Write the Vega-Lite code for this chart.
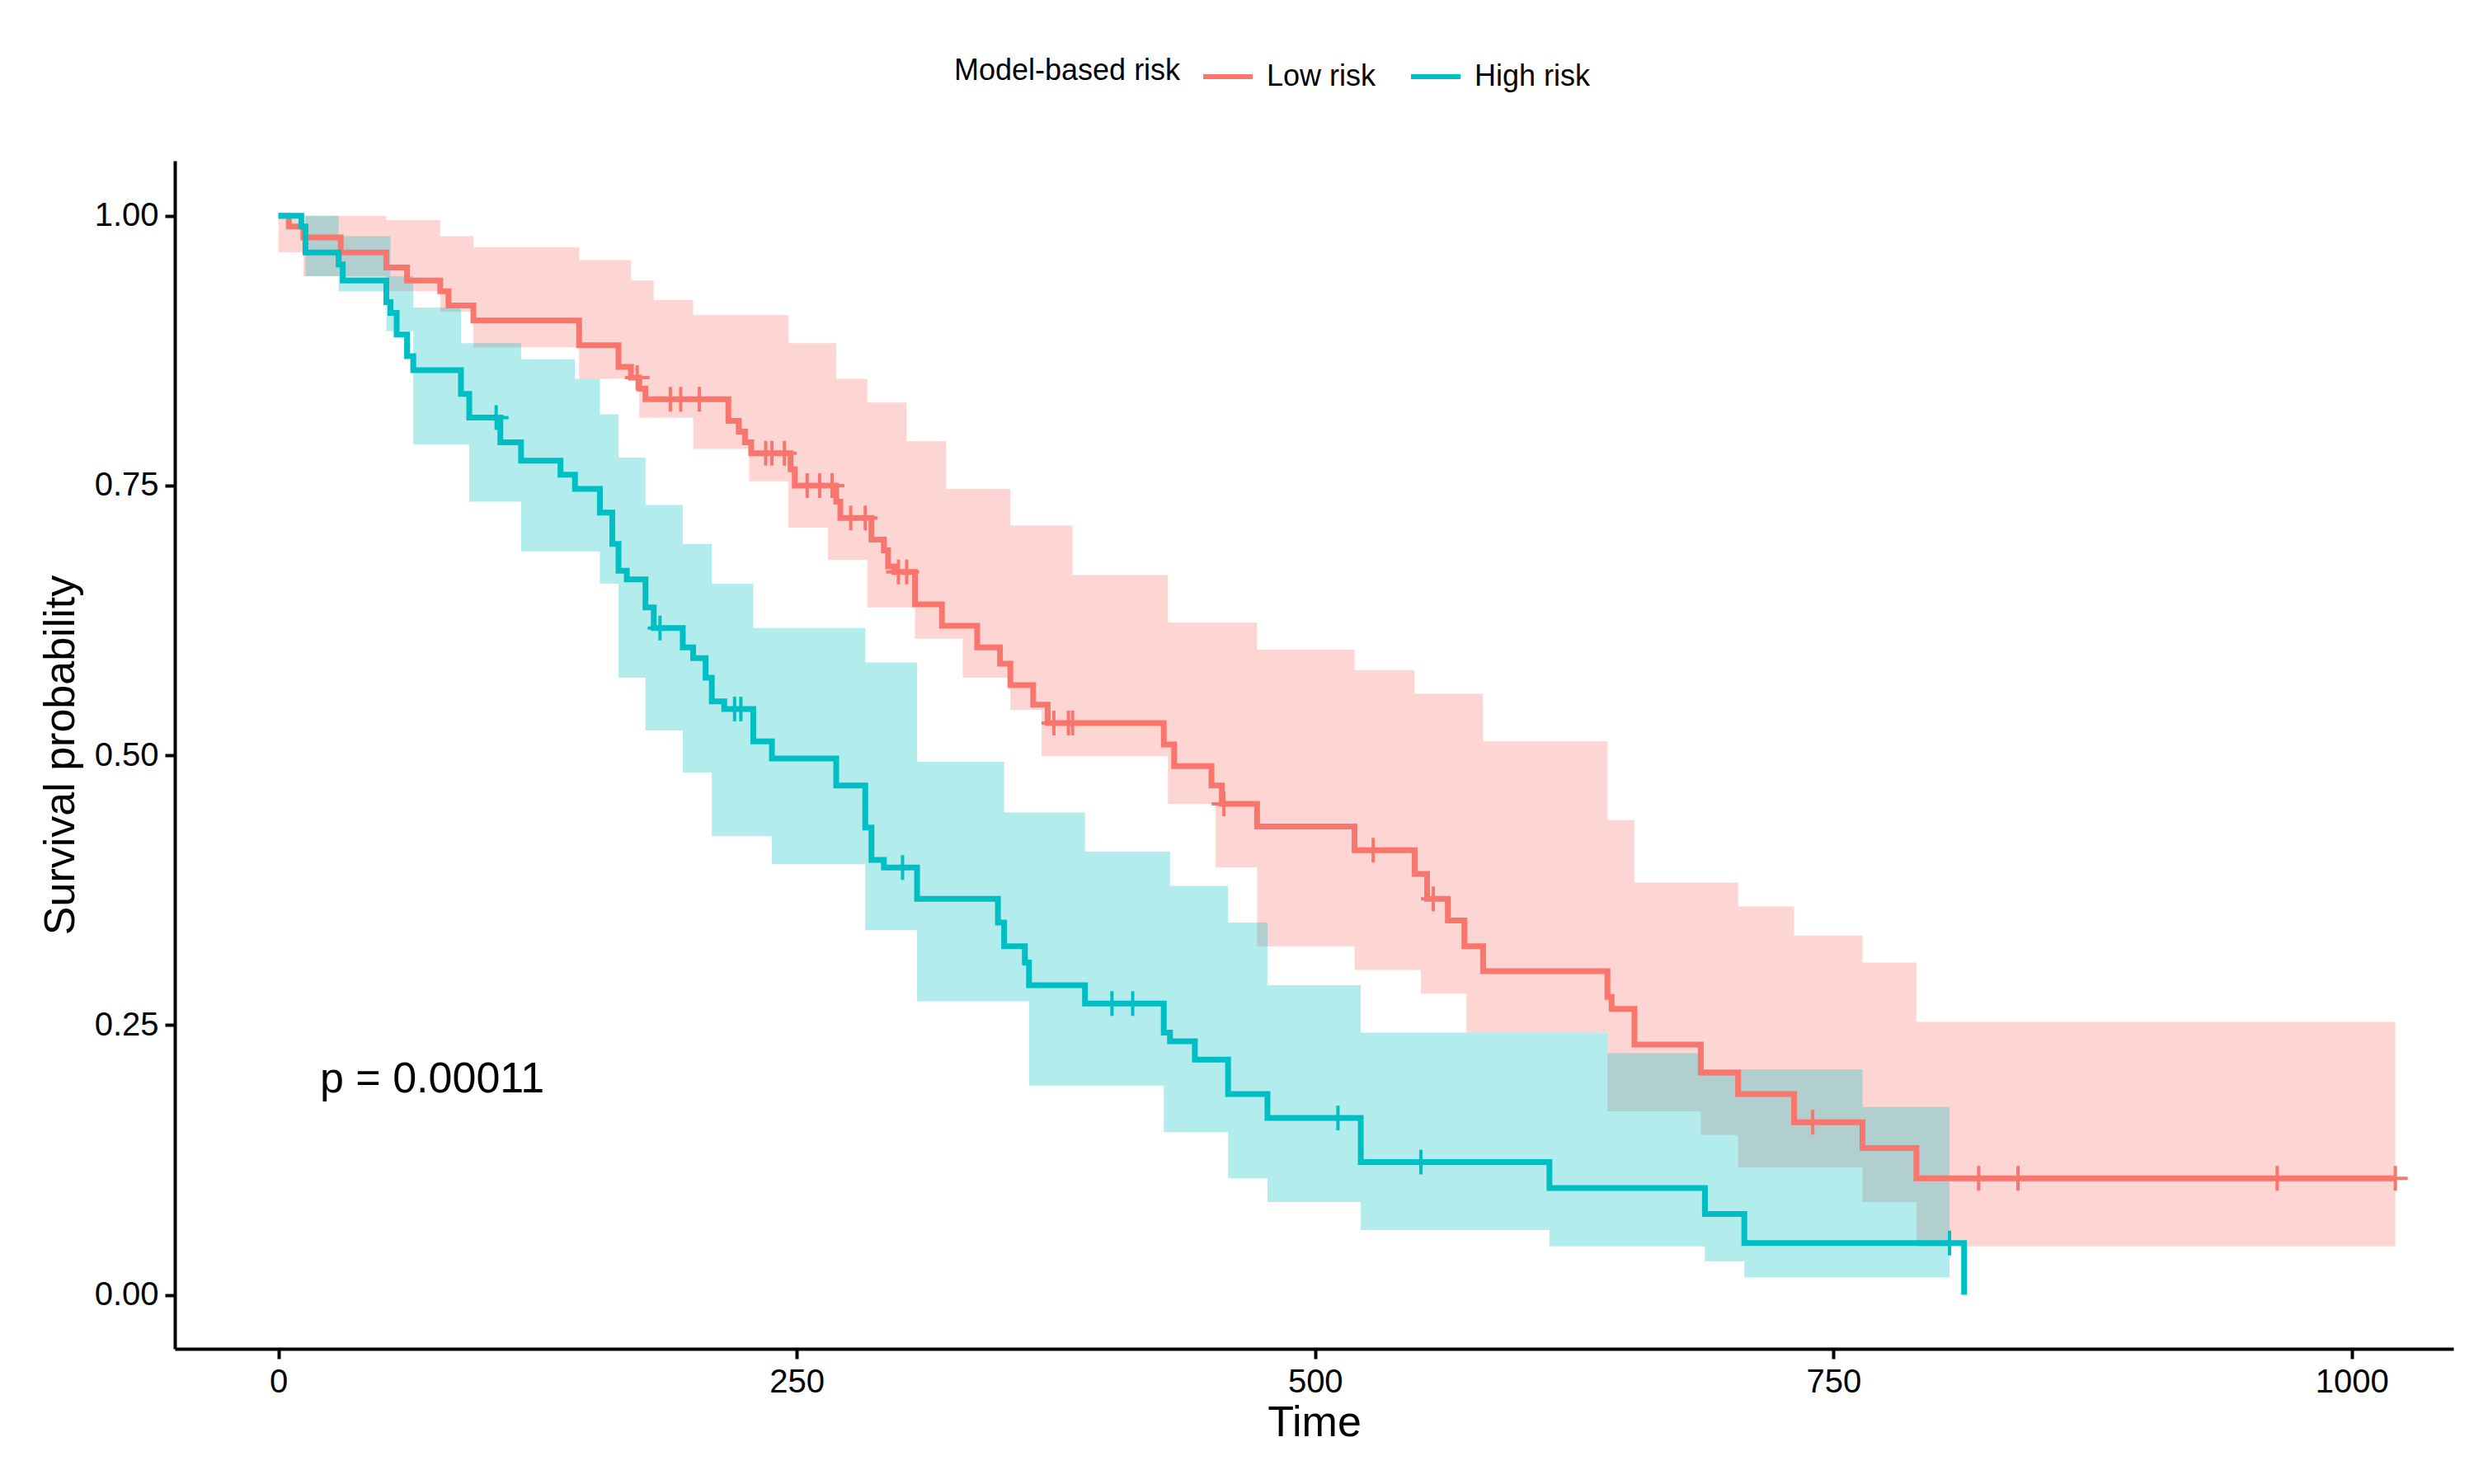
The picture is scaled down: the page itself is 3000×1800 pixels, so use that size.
{
  "$schema": "https://vega.github.io/schema/vega-lite/v6.json",
  "width": 2763,
  "height": 1441,
  "autosize": "none",
  "padding": {"left": 212, "top": 195, "right": 25, "bottom": 164},
  "background": "white",
  "config": {
    "view": {"stroke": null},
    "font": "Liberation Sans",
    "axis": {"grid": false, "domainColor": "black", "domainWidth": 4, "tickColor": "black", "tickWidth": 4, "tickSize": 12, "labelColor": "black", "labelFontSize": 40, "titleFontSize": 52, "titleFontWeight": "normal", "titleColor": "black", "labelPadding": 8},
    "legend": {"orient": "none", "legendX": 945, "legendY": -135, "direction": "horizontal", "titleOrient": "left", "titleLimit": 800, "titleFontSize": 36, "titleFontWeight": "normal", "titleColor": "black", "titleBaseline": "middle", "titlePadding": 24, "labelFontSize": 36, "labelColor": "black", "labelOffset": 14, "symbolType": "stroke", "symbolStrokeWidth": 6, "symbolSize": 3600, "symbolOpacity": 1, "columnPadding": 30}
  },
  "datasets": {
    "curve": [
      {"g": "Low risk", "t": 0, "s": 1.0}, {"g": "Low risk", "t": 5, "s": 0.99}, {"g": "Low risk", "t": 12, "s": 0.98}, {"g": "Low risk", "t": 30, "s": 0.966}, {"g": "Low risk", "t": 52, "s": 0.952}, {"g": "Low risk", "t": 62, "s": 0.94}, {"g": "Low risk", "t": 78, "s": 0.93}, {"g": "Low risk", "t": 82, "s": 0.917}, {"g": "Low risk", "t": 94, "s": 0.903}, {"g": "Low risk", "t": 145, "s": 0.88}, {"g": "Low risk", "t": 164, "s": 0.86}, {"g": "Low risk", "t": 170, "s": 0.85}, {"g": "Low risk", "t": 174, "s": 0.84}, {"g": "Low risk", "t": 177, "s": 0.83}, {"g": "Low risk", "t": 217, "s": 0.81}, {"g": "Low risk", "t": 222, "s": 0.8}, {"g": "Low risk", "t": 225, "s": 0.79}, {"g": "Low risk", "t": 228, "s": 0.78}, {"g": "Low risk", "t": 247, "s": 0.765}, {"g": "Low risk", "t": 249, "s": 0.75}, {"g": "Low risk", "t": 269, "s": 0.735}, {"g": "Low risk", "t": 271, "s": 0.72}, {"g": "Low risk", "t": 286, "s": 0.7}, {"g": "Low risk", "t": 292, "s": 0.69}, {"g": "Low risk", "t": 294, "s": 0.675}, {"g": "Low risk", "t": 297, "s": 0.67}, {"g": "Low risk", "t": 307, "s": 0.64}, {"g": "Low risk", "t": 320, "s": 0.62}, {"g": "Low risk", "t": 337, "s": 0.6}, {"g": "Low risk", "t": 348, "s": 0.585}, {"g": "Low risk", "t": 353, "s": 0.565}, {"g": "Low risk", "t": 364, "s": 0.547}, {"g": "Low risk", "t": 371, "s": 0.53}, {"g": "Low risk", "t": 427, "s": 0.51}, {"g": "Low risk", "t": 432, "s": 0.49}, {"g": "Low risk", "t": 450, "s": 0.472}, {"g": "Low risk", "t": 455, "s": 0.455}, {"g": "Low risk", "t": 472, "s": 0.434}, {"g": "Low risk", "t": 519, "s": 0.412}, {"g": "Low risk", "t": 548, "s": 0.39}, {"g": "Low risk", "t": 554, "s": 0.367}, {"g": "Low risk", "t": 564, "s": 0.347}, {"g": "Low risk", "t": 572, "s": 0.323}, {"g": "Low risk", "t": 581, "s": 0.3}, {"g": "Low risk", "t": 641, "s": 0.276}, {"g": "Low risk", "t": 643, "s": 0.265}, {"g": "Low risk", "t": 654, "s": 0.232}, {"g": "Low risk", "t": 686, "s": 0.206}, {"g": "Low risk", "t": 704, "s": 0.186}, {"g": "Low risk", "t": 731, "s": 0.16}, {"g": "Low risk", "t": 764, "s": 0.136}, {"g": "Low risk", "t": 790, "s": 0.108}, {"g": "Low risk", "t": 1021, "s": 0.108},
      {"g": "High risk", "t": 0, "s": 1.0}, {"g": "High risk", "t": 11, "s": 0.99}, {"g": "High risk", "t": 13, "s": 0.966}, {"g": "High risk", "t": 29, "s": 0.955}, {"g": "High risk", "t": 31, "s": 0.94}, {"g": "High risk", "t": 52, "s": 0.92}, {"g": "High risk", "t": 54, "s": 0.91}, {"g": "High risk", "t": 57, "s": 0.89}, {"g": "High risk", "t": 62, "s": 0.87}, {"g": "High risk", "t": 65, "s": 0.857}, {"g": "High risk", "t": 88, "s": 0.835}, {"g": "High risk", "t": 92, "s": 0.813}, {"g": "High risk", "t": 107, "s": 0.79}, {"g": "High risk", "t": 117, "s": 0.773}, {"g": "High risk", "t": 136, "s": 0.76}, {"g": "High risk", "t": 143, "s": 0.747}, {"g": "High risk", "t": 155, "s": 0.725}, {"g": "High risk", "t": 161, "s": 0.696}, {"g": "High risk", "t": 164, "s": 0.671}, {"g": "High risk", "t": 168, "s": 0.663}, {"g": "High risk", "t": 177, "s": 0.637}, {"g": "High risk", "t": 181, "s": 0.618}, {"g": "High risk", "t": 195, "s": 0.6}, {"g": "High risk", "t": 200, "s": 0.59}, {"g": "High risk", "t": 206, "s": 0.572}, {"g": "High risk", "t": 209, "s": 0.55}, {"g": "High risk", "t": 215, "s": 0.543}, {"g": "High risk", "t": 229, "s": 0.513}, {"g": "High risk", "t": 238, "s": 0.497}, {"g": "High risk", "t": 269, "s": 0.472}, {"g": "High risk", "t": 283, "s": 0.433}, {"g": "High risk", "t": 286, "s": 0.403}, {"g": "High risk", "t": 292, "s": 0.396}, {"g": "High risk", "t": 308, "s": 0.367}, {"g": "High risk", "t": 347, "s": 0.345}, {"g": "High risk", "t": 350, "s": 0.323}, {"g": "High risk", "t": 360, "s": 0.308}, {"g": "High risk", "t": 362, "s": 0.287}, {"g": "High risk", "t": 389, "s": 0.27}, {"g": "High risk", "t": 427, "s": 0.243}, {"g": "High risk", "t": 430, "s": 0.235}, {"g": "High risk", "t": 442, "s": 0.218}, {"g": "High risk", "t": 458, "s": 0.186}, {"g": "High risk", "t": 477, "s": 0.164}, {"g": "High risk", "t": 522, "s": 0.123}, {"g": "High risk", "t": 613, "s": 0.099}, {"g": "High risk", "t": 688, "s": 0.075}, {"g": "High risk", "t": 707, "s": 0.048}, {"g": "High risk", "t": 813, "s": 0.048}, {"g": "High risk", "t": 813, "s": 0.0}
    ],
    "ci": [
      {"g": "Low risk", "t": 0, "hi": 1.0, "lo": 0.966}, {"g": "Low risk", "t": 12, "hi": 1.0, "lo": 0.944}, {"g": "Low risk", "t": 52, "hi": 0.996, "lo": 0.93}, {"g": "Low risk", "t": 78, "hi": 0.981, "lo": 0.911}, {"g": "Low risk", "t": 94, "hi": 0.971, "lo": 0.878}, {"g": "Low risk", "t": 145, "hi": 0.959, "lo": 0.849}, {"g": "Low risk", "t": 170, "hi": 0.94, "lo": 0.849}, {"g": "Low risk", "t": 174, "hi": 0.94, "lo": 0.813}, {"g": "Low risk", "t": 181, "hi": 0.922, "lo": 0.813}, {"g": "Low risk", "t": 200, "hi": 0.908, "lo": 0.784}, {"g": "Low risk", "t": 227, "hi": 0.908, "lo": 0.754}, {"g": "Low risk", "t": 246, "hi": 0.882, "lo": 0.711}, {"g": "Low risk", "t": 265, "hi": 0.882, "lo": 0.681}, {"g": "Low risk", "t": 269, "hi": 0.849, "lo": 0.681}, {"g": "Low risk", "t": 284, "hi": 0.827, "lo": 0.637}, {"g": "Low risk", "t": 303, "hi": 0.791, "lo": 0.637}, {"g": "Low risk", "t": 307, "hi": 0.791, "lo": 0.608}, {"g": "Low risk", "t": 322, "hi": 0.747, "lo": 0.608}, {"g": "Low risk", "t": 330, "hi": 0.747, "lo": 0.572}, {"g": "Low risk", "t": 353, "hi": 0.713, "lo": 0.542}, {"g": "Low risk", "t": 368, "hi": 0.713, "lo": 0.499}, {"g": "Low risk", "t": 383, "hi": 0.667, "lo": 0.499}, {"g": "Low risk", "t": 429, "hi": 0.623, "lo": 0.455}, {"g": "Low risk", "t": 452, "hi": 0.623, "lo": 0.396}, {"g": "Low risk", "t": 472, "hi": 0.598, "lo": 0.323}, {"g": "Low risk", "t": 519, "hi": 0.579, "lo": 0.301}, {"g": "Low risk", "t": 548, "hi": 0.557, "lo": 0.301}, {"g": "Low risk", "t": 551, "hi": 0.557, "lo": 0.279}, {"g": "Low risk", "t": 573, "hi": 0.557, "lo": 0.243}, {"g": "Low risk", "t": 581, "hi": 0.513, "lo": 0.243}, {"g": "Low risk", "t": 641, "hi": 0.44, "lo": 0.17}, {"g": "Low risk", "t": 654, "hi": 0.382, "lo": 0.17}, {"g": "Low risk", "t": 686, "hi": 0.382, "lo": 0.148}, {"g": "Low risk", "t": 704, "hi": 0.36, "lo": 0.118}, {"g": "Low risk", "t": 731, "hi": 0.333, "lo": 0.118}, {"g": "Low risk", "t": 764, "hi": 0.308, "lo": 0.086}, {"g": "Low risk", "t": 790, "hi": 0.253, "lo": 0.045}, {"g": "Low risk", "t": 1021, "hi": 0.253, "lo": 0.045},
      {"g": "High risk", "t": 0, "hi": 1.0, "lo": 1.0}, {"g": "High risk", "t": 13, "hi": 1.0, "lo": 0.944}, {"g": "High risk", "t": 29, "hi": 0.981, "lo": 0.93}, {"g": "High risk", "t": 52, "hi": 0.981, "lo": 0.893}, {"g": "High risk", "t": 54, "hi": 0.944, "lo": 0.893}, {"g": "High risk", "t": 65, "hi": 0.915, "lo": 0.788}, {"g": "High risk", "t": 88, "hi": 0.882, "lo": 0.788}, {"g": "High risk", "t": 92, "hi": 0.882, "lo": 0.735}, {"g": "High risk", "t": 117, "hi": 0.867, "lo": 0.689}, {"g": "High risk", "t": 143, "hi": 0.849, "lo": 0.689}, {"g": "High risk", "t": 155, "hi": 0.816, "lo": 0.659}, {"g": "High risk", "t": 164, "hi": 0.776, "lo": 0.572}, {"g": "High risk", "t": 177, "hi": 0.732, "lo": 0.523}, {"g": "High risk", "t": 195, "hi": 0.696, "lo": 0.484}, {"g": "High risk", "t": 209, "hi": 0.659, "lo": 0.425}, {"g": "High risk", "t": 229, "hi": 0.618, "lo": 0.425}, {"g": "High risk", "t": 238, "hi": 0.618, "lo": 0.399}, {"g": "High risk", "t": 283, "hi": 0.586, "lo": 0.338}, {"g": "High risk", "t": 308, "hi": 0.494, "lo": 0.272}, {"g": "High risk", "t": 350, "hi": 0.447, "lo": 0.272}, {"g": "High risk", "t": 362, "hi": 0.447, "lo": 0.194}, {"g": "High risk", "t": 389, "hi": 0.411, "lo": 0.194}, {"g": "High risk", "t": 427, "hi": 0.411, "lo": 0.151}, {"g": "High risk", "t": 430, "hi": 0.379, "lo": 0.151}, {"g": "High risk", "t": 458, "hi": 0.345, "lo": 0.108}, {"g": "High risk", "t": 477, "hi": 0.287, "lo": 0.086}, {"g": "High risk", "t": 522, "hi": 0.243, "lo": 0.06}, {"g": "High risk", "t": 613, "hi": 0.243, "lo": 0.045}, {"g": "High risk", "t": 641, "hi": 0.224, "lo": 0.045}, {"g": "High risk", "t": 686, "hi": 0.209, "lo": 0.045}, {"g": "High risk", "t": 688, "hi": 0.209, "lo": 0.031}, {"g": "High risk", "t": 707, "hi": 0.209, "lo": 0.016}, {"g": "High risk", "t": 764, "hi": 0.174, "lo": 0.016}, {"g": "High risk", "t": 806, "hi": 0.174, "lo": 0.016}
    ],
    "censor": [
      {"g": "Low risk", "t": 173, "s": 0.85}, {"g": "Low risk", "t": 189, "s": 0.83}, {"g": "Low risk", "t": 194, "s": 0.83}, {"g": "Low risk", "t": 203, "s": 0.83}, {"g": "Low risk", "t": 235, "s": 0.78}, {"g": "Low risk", "t": 238, "s": 0.78}, {"g": "Low risk", "t": 244, "s": 0.78}, {"g": "Low risk", "t": 255, "s": 0.75}, {"g": "Low risk", "t": 261, "s": 0.75}, {"g": "Low risk", "t": 267, "s": 0.75}, {"g": "Low risk", "t": 276, "s": 0.72}, {"g": "Low risk", "t": 283, "s": 0.72}, {"g": "Low risk", "t": 299, "s": 0.67}, {"g": "Low risk", "t": 303, "s": 0.67}, {"g": "Low risk", "t": 374, "s": 0.53}, {"g": "Low risk", "t": 381, "s": 0.53}, {"g": "Low risk", "t": 383, "s": 0.53}, {"g": "Low risk", "t": 456, "s": 0.455}, {"g": "Low risk", "t": 528, "s": 0.412}, {"g": "Low risk", "t": 557, "s": 0.367}, {"g": "Low risk", "t": 740, "s": 0.16}, {"g": "Low risk", "t": 820, "s": 0.108}, {"g": "Low risk", "t": 839, "s": 0.108}, {"g": "Low risk", "t": 964, "s": 0.108}, {"g": "Low risk", "t": 1021, "s": 0.108},
      {"g": "High risk", "t": 105, "s": 0.813}, {"g": "High risk", "t": 184, "s": 0.618}, {"g": "High risk", "t": 220, "s": 0.543}, {"g": "High risk", "t": 223, "s": 0.543}, {"g": "High risk", "t": 301, "s": 0.396}, {"g": "High risk", "t": 402, "s": 0.27}, {"g": "High risk", "t": 412, "s": 0.27}, {"g": "High risk", "t": 511, "s": 0.164}, {"g": "High risk", "t": 551, "s": 0.123}, {"g": "High risk", "t": 806, "s": 0.048}
    ],
    "note": [{"t": 20, "s": 0.2, "label": "p = 0.00011"}]
  },
  "layer": [
    {
      "data": {"name": "ci"},
      "mark": {"type": "area", "interpolate": "step-after", "opacity": 0.3},
      "encoding": {
        "x": {"field": "t", "type": "quantitative", "scale": {"domain": [-50, 1049], "nice": false, "zero": false}, "axis": {"values": [0, 250, 500, 750, 1000], "format": "d", "title": "Time"}},
        "y": {"field": "hi", "type": "quantitative", "scale": {"domain": [-0.05, 1.051], "nice": false}, "axis": {"values": [0, 0.25, 0.5, 0.75, 1], "format": ".2f", "title": "Survival probability", "titlePadding": 14}},
        "y2": {"field": "lo"},
        "fill": {"field": "g", "type": "nominal", "scale": {"domain": ["Low risk", "High risk"], "range": ["#F8766D", "#00BFC4"]}, "legend": {"title": "Model-based risk"}},
        "detail": {"field": "g"}
      }
    },
    {
      "data": {"name": "curve"},
      "mark": {"type": "line", "interpolate": "step-after", "strokeWidth": 7},
      "encoding": {
        "x": {"field": "t", "type": "quantitative"},
        "y": {"field": "s", "type": "quantitative"},
        "stroke": {"field": "g", "type": "nominal", "scale": {"domain": ["Low risk", "High risk"], "range": ["#F8766D", "#00BFC4"]}, "legend": {"title": "Model-based risk"}}
      }
    },
    {
      "data": {"name": "censor"},
      "mark": {"type": "point", "shape": "M-1,0H1M0,-1V1", "filled": false, "size": 900, "strokeWidth": 4, "opacity": 1},
      "encoding": {
        "x": {"field": "t", "type": "quantitative"},
        "y": {"field": "s", "type": "quantitative"},
        "stroke": {"field": "g", "type": "nominal"}
      }
    },
    {
      "data": {"name": "note"},
      "mark": {"type": "text", "align": "left", "fontSize": 52, "color": "black"},
      "encoding": {
        "x": {"field": "t", "type": "quantitative"},
        "y": {"field": "s", "type": "quantitative"},
        "text": {"field": "label"}
      }
    }
  ]
}
